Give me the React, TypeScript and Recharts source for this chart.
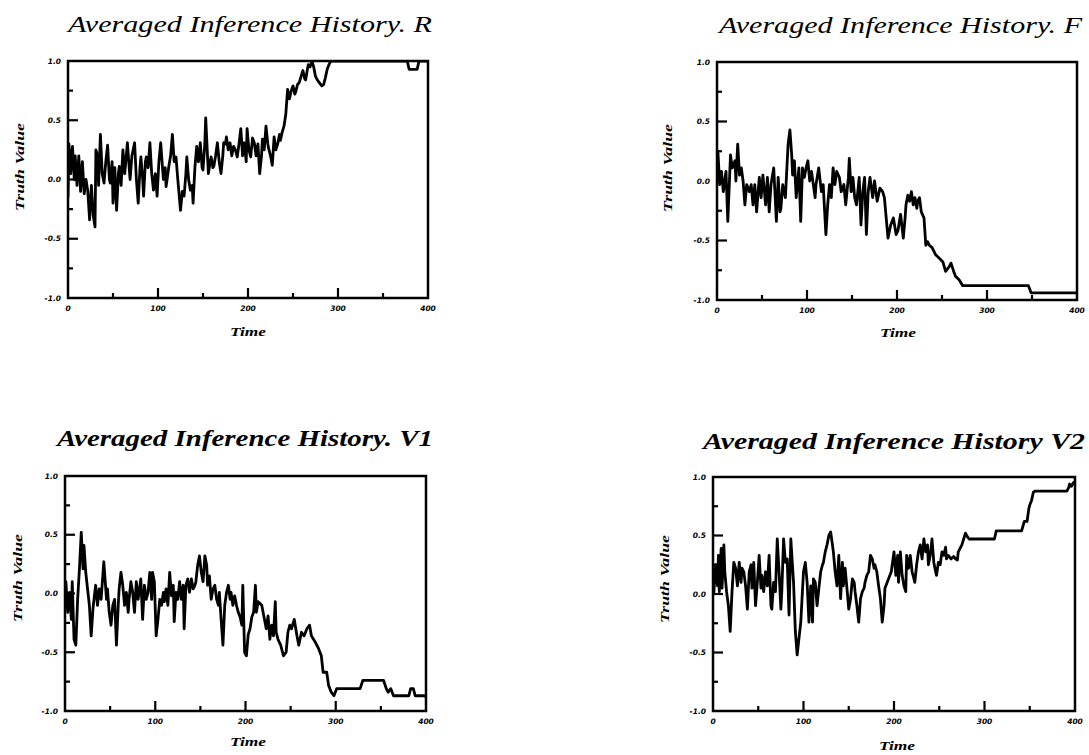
import React from 'react';
import { LineChart, Line, XAxis, YAxis, ReferenceArea } from 'recharts';

const xTicks = [0, 50, 100, 150, 200, 250, 300, 350, 400];
const xLabelTicks = [0, 100, 200, 300, 400];
const yTicks = [-1, -0.75, -0.5, -0.25, 0, 0.25, 0.5, 0.75, 1];
const yLabelTicks = [-1, -0.5, 0, 0.5, 1];

const titleR = 'Averaged Inference History. R';
const titleF = 'Averaged Inference History. F';
const titleV1 = 'Averaged Inference History. V1';
const titleV2 = 'Averaged Inference History  V2';
const xAxisName = 'Time';
const yAxisName = 'Truth Value';

// [time, truth value]
const seriesR: [number, number][] = [
  [0, -0.15], [1, 0.3], [3, 0.05], [5, 0.28], [7, 0.0], [8, 0.2], [10, -0.05], [12, 0.2], [14, -0.1], [16, 0.15],
  [18, -0.12], [20, 0.0], [22, -0.1], [24, -0.34], [26, -0.05], [28, -0.3], [30, -0.4], [31, 0.25], [33, 0.2], [34, -0.05],
  [36, 0.38], [38, 0.05], [40, -0.03], [42, 0.15], [44, 0.29], [46, 0.0], [47, -0.03], [49, 0.15], [50, -0.2], [52, 0.1],
  [54, -0.26], [56, 0.05], [57, 0.11], [59, -0.05], [61, 0.25], [63, 0.05], [66, 0.31], [68, 0.1], [69, 0.0], [71, 0.2],
  [74, 0.31], [76, 0.0], [78, -0.2], [80, 0.1], [81, 0.19], [83, 0.0], [84, -0.14], [86, 0.15], [87, 0.19], [89, 0.1],
  [91, 0.31], [93, 0.05], [95, -0.09], [97, 0.05], [99, -0.14], [101, 0.15], [103, 0.31], [105, 0.1], [106, 0.0], [108, 0.1],
  [109, -0.06], [111, 0.05], [112, 0.11], [114, 0.2], [116, 0.38], [118, 0.15], [120, 0.19], [122, 0.0], [125, -0.26], [127, -0.1],
  [129, -0.14], [131, 0.05], [132, 0.19], [134, 0.0], [136, -0.09], [138, -0.05], [139, -0.2], [141, 0.1], [143, 0.28], [145, 0.15],
  [147, 0.31], [149, 0.1], [150, 0.08], [152, 0.3], [153, 0.52], [155, 0.2], [156, 0.05], [158, 0.15], [159, 0.19], [161, 0.1],
  [162, 0.11], [164, 0.2], [166, 0.31], [168, 0.15], [170, 0.05], [172, 0.2], [173, 0.31], [175, 0.3], [176, 0.36], [178, 0.25],
  [180, 0.31], [182, 0.2], [184, 0.28], [186, 0.25], [188, 0.19], [190, 0.3], [192, 0.43], [194, 0.2], [196, 0.31], [198, 0.15],
  [199, 0.43], [201, 0.25], [203, 0.19], [205, 0.35], [207, 0.31], [209, 0.2], [211, 0.3], [213, 0.05], [215, 0.2], [216, 0.34],
  [218, 0.25], [220, 0.45], [222, 0.3], [223, 0.26], [225, 0.2], [227, 0.12], [229, 0.36], [231, 0.25], [233, 0.3], [235, 0.38],
  [236, 0.33], [238, 0.4], [240, 0.45], [242, 0.55], [244, 0.76], [246, 0.68], [248, 0.75], [250, 0.79], [252, 0.72], [253, 0.74],
  [255, 0.8], [257, 0.82], [259, 0.87], [261, 0.92], [263, 0.85], [264, 0.84], [266, 0.93], [267, 0.97], [269, 0.95], [271, 1.0],
  [273, 0.95], [275, 0.87], [277, 0.84], [279, 0.82], [282, 0.79], [284, 0.8], [286, 0.86], [288, 0.93], [290, 0.97], [292, 1.0],
  [377, 1.0], [379, 0.93], [388, 0.93], [390, 1.0], [400, 1.0],
];

const seriesF: [number, number][] = [
  [0, 0.0], [1, 0.25], [3, -0.03], [5, 0.08], [7, -0.09], [10, 0.08], [12, -0.34], [15, 0.22], [17, 0.11], [20, 0.17],
  [21, 0.0], [23, 0.31], [25, 0.05], [27, 0.11], [29, 0.0], [31, -0.2], [33, -0.03], [36, -0.09], [38, -0.03], [40, -0.2],
  [42, -0.03], [44, -0.26], [47, 0.03], [49, -0.14], [51, 0.05], [54, -0.2], [56, 0.03], [58, -0.26], [60, -0.03], [63, 0.11],
  [66, -0.34], [68, 0.03], [70, -0.26], [71, -0.23], [73, -0.03], [76, -0.14], [79, 0.31], [81, 0.43], [83, 0.22], [84, 0.05],
  [86, 0.17], [88, -0.14], [91, 0.11], [93, -0.34], [95, 0.11], [97, 0.03], [99, 0.11], [101, 0.17], [103, 0.0], [105, 0.08],
  [107, -0.03], [109, -0.14], [110, -0.03], [113, 0.11], [116, -0.09], [118, -0.03], [121, -0.45], [123, -0.2], [125, -0.03], [127, -0.14],
  [129, 0.11], [131, -0.03], [133, 0.08], [136, 0.03], [138, -0.09], [141, -0.03], [143, -0.2], [146, 0.03], [147, 0.19], [149, -0.09],
  [151, 0.03], [153, -0.14], [155, -0.2], [158, 0.03], [160, -0.37], [162, -0.09], [164, 0.03], [166, -0.45], [168, -0.09], [170, 0.03],
  [173, -0.14], [175, 0.0], [178, -0.17], [181, -0.06], [184, -0.09], [186, -0.14], [188, -0.31], [190, -0.48], [193, -0.37], [196, -0.31],
  [199, -0.45], [201, -0.42], [204, -0.28], [207, -0.48], [209, -0.31], [210, -0.2], [212, -0.12], [214, -0.17], [216, -0.09], [218, -0.2],
  [220, -0.14], [222, -0.23], [223, -0.17], [225, -0.14], [227, -0.26], [230, -0.31], [232, -0.54], [234, -0.51], [236, -0.54], [239, -0.56],
  [243, -0.62], [247, -0.65], [251, -0.68], [254, -0.76], [258, -0.72], [260, -0.69], [263, -0.76], [265, -0.8], [269, -0.83], [273, -0.88],
  [346, -0.88], [349, -0.94], [400, -0.94],
];

const seriesV1: [number, number][] = [
  [0, -0.05], [1, 0.1], [3, -0.16], [5, 0.01], [7, -0.22], [8, 0.1], [10, -0.39], [12, -0.44], [14, -0.05], [16, 0.21],
  [18, 0.52], [20, 0.21], [21, 0.41], [23, 0.18], [25, 0.04], [27, -0.1], [29, -0.36], [31, -0.13], [33, 0.01], [34, 0.07],
  [36, -0.1], [38, 0.04], [40, -0.05], [43, 0.27], [46, -0.05], [47, 0.04], [49, -0.16], [51, -0.27], [53, -0.1], [55, -0.05],
  [57, -0.44], [59, -0.1], [60, 0.04], [62, 0.18], [64, 0.07], [66, -0.1], [68, 0.01], [70, -0.16], [71, -0.05], [73, 0.1],
  [75, 0.01], [77, -0.16], [79, 0.1], [81, -0.05], [84, 0.125], [86, -0.22], [88, 0.07], [90, -0.05], [92, 0.01], [94, 0.18],
  [96, -0.05], [97, 0.18], [99, 0.1], [101, -0.36], [103, -0.22], [105, -0.05], [107, -0.1], [109, 0.01], [110, -0.07], [112, 0.04],
  [114, -0.1], [116, 0.18], [118, -0.02], [120, 0.07], [121, -0.24], [123, 0.01], [125, -0.05], [127, 0.1], [129, -0.05], [131, 0.07],
  [132, -0.3], [134, 0.07], [136, 0.125], [138, 0.01], [140, 0.125], [142, 0.04], [144, 0.07], [145, 0.1], [147, 0.24], [149, 0.32],
  [151, 0.18], [153, 0.1], [155, 0.32], [157, 0.24], [158, 0.07], [160, 0.15], [162, -0.05], [164, 0.04], [166, 0.07], [168, -0.05],
  [170, -0.1], [171, 0.01], [173, -0.22], [175, -0.44], [177, -0.1], [179, 0.01], [181, 0.07], [183, -0.05], [184, 0.01], [186, -0.1],
  [188, -0.02], [190, -0.1], [192, -0.16], [194, -0.2], [196, -0.27], [197, 0.07], [199, -0.5], [201, -0.53], [203, -0.35], [205, -0.3],
  [207, -0.2], [209, -0.16], [211, 0.07], [212, -0.16], [214, -0.07], [218, -0.1], [221, -0.22], [223, -0.3], [225, -0.19], [227, -0.39],
  [229, -0.27], [231, -0.36], [233, -0.07], [234, -0.33], [236, -0.39], [239, -0.44], [242, -0.53], [245, -0.5], [247, -0.33], [249, -0.27],
  [251, -0.3], [254, -0.22], [257, -0.36], [259, -0.44], [262, -0.33], [265, -0.36], [268, -0.3], [271, -0.27], [273, -0.36], [277, -0.41],
  [281, -0.47], [284, -0.53], [286, -0.67], [290, -0.67], [292, -0.78], [295, -0.84], [298, -0.87], [301, -0.81], [327, -0.81], [330, -0.74],
  [353, -0.74], [356, -0.81], [358, -0.84], [361, -0.81], [364, -0.87], [381, -0.87], [383, -0.81], [386, -0.81], [388, -0.87], [398, -0.87],
  [400, -0.88],
];

const seriesV2: [number, number][] = [
  [0, 0.0], [1, 0.02], [3, 0.25], [5, 0.07], [6, 0.33], [7, 0.02], [9, 0.39], [10, 0.05], [12, 0.42], [13, 0.19],
  [15, 0.02], [17, -0.1], [19, -0.32], [21, 0.02], [23, 0.27], [25, 0.22], [27, 0.07], [29, 0.27], [31, 0.1], [32, 0.22],
  [34, 0.19], [36, 0.07], [38, -0.13], [40, 0.19], [42, 0.25], [43, 0.05], [45, 0.27], [47, -0.1], [49, 0.1], [51, 0.33],
  [53, 0.05], [54, 0.16], [56, 0.02], [58, 0.19], [60, 0.07], [62, 0.33], [64, -0.1], [65, -0.13], [67, 0.1], [69, 0.02],
  [71, 0.47], [73, 0.19], [75, -0.13], [76, 0.02], [78, 0.47], [80, 0.27], [82, 0.3], [84, -0.18], [86, 0.47], [88, 0.22],
  [89, 0.1], [91, -0.32], [93, -0.52], [95, -0.38], [97, -0.24], [99, 0.05], [100, 0.19], [102, 0.27], [104, 0.1], [106, -0.24],
  [108, 0.07], [110, -0.24], [111, 0.13], [113, 0.1], [115, -0.1], [117, 0.05], [119, 0.19], [121, 0.25], [122, 0.27], [124, 0.36],
  [126, 0.42], [128, 0.5], [130, 0.53], [132, 0.42], [133, 0.36], [135, 0.19], [137, 0.07], [139, 0.33], [141, -0.04], [143, 0.27],
  [144, 0.07], [146, 0.22], [148, 0.05], [150, -0.13], [152, -0.04], [154, 0.13], [156, 0.1], [157, 0.02], [159, -0.1], [161, -0.24],
  [163, -0.04], [165, 0.02], [167, 0.05], [168, 0.1], [170, 0.16], [172, 0.19], [174, 0.33], [176, 0.3], [178, 0.22], [179, 0.25],
  [181, 0.19], [183, 0.07], [185, -0.04], [187, -0.24], [189, -0.1], [190, 0.05], [194, 0.13], [197, 0.19], [200, 0.36], [202, 0.16],
  [204, 0.33], [205, 0.1], [207, 0.36], [209, 0.16], [211, 0.07], [213, 0.02], [214, 0.33], [216, 0.22], [218, 0.33], [220, 0.19],
  [223, 0.1], [225, 0.25], [227, 0.36], [229, 0.42], [231, 0.3], [233, 0.47], [235, 0.36], [237, 0.42], [238, 0.25], [240, 0.33],
  [242, 0.47], [244, 0.27], [246, 0.19], [247, 0.16], [249, 0.27], [251, 0.25], [253, 0.36], [255, 0.33], [257, 0.4], [258, 0.3],
  [260, 0.33], [263, 0.3], [266, 0.32], [268, 0.3], [270, 0.29], [271, 0.36], [273, 0.39], [275, 0.42], [277, 0.47], [279, 0.52],
  [281, 0.49], [283, 0.47], [311, 0.47], [313, 0.54], [341, 0.54], [344, 0.62], [347, 0.62], [349, 0.73], [350, 0.76], [352, 0.8],
  [354, 0.87], [356, 0.88], [391, 0.88], [393, 0.91], [394, 0.94], [396, 0.92], [398, 0.95], [400, 0.96],
];

const TICK_FONT = '"DejaVu Sans", sans-serif';
const SCRIPT_FONT = '"Liberation Serif", "DejaVu Serif", serif';

function XTick(props: any) {
  const { x, y, payload } = props;
  const v = payload.value;
  const major = v % 100 === 0;
  const edge = v === 0 || v === 400;
  return (
    <g>
      {!edge && (
        <line x1={x} x2={x} y1={y} y2={y - (major ? 10 : 5)} stroke="#000" strokeWidth={2.2} />
      )}
      {xLabelTicks.includes(v) && (
        <text x={x} y={y + 13} textAnchor="middle" fontSize={7.5} fontWeight="bold" fontStyle="italic" fontFamily={TICK_FONT} fill="#000">
          {String(v)}
        </text>
      )}
    </g>
  );
}

function YTick(props: any) {
  const { x, y, payload } = props;
  const v = payload.value;
  const major = yLabelTicks.includes(v);
  const edge = v === -1 || v === 1;
  return (
    <g>
      {!edge && (
        <line x1={x} x2={x + (major ? 10 : 5)} y1={y} y2={y} stroke="#000" strokeWidth={2.2} />
      )}
      {major && (
        <text x={x - 7} y={y + 2.5} textAnchor="end" fontSize={7.5} fontWeight="bold" fontStyle="italic" fontFamily={TICK_FONT} fill="#000">
          {v.toFixed(1)}
        </text>
      )}
    </g>
  );
}

type PlotBox = { left: number; top: number; width: number; height: number };

function Panel({ box, series }: { box: PlotBox; series: [number, number][] }) {
  const ml = 10, mt = 20, mr = 20, mb = 10;
  const yw = 40, xh = 20;
  const data = series.map(([t, v]) => ({ t, v }));
  return (
    <div style={{ position: 'absolute', left: box.left - ml - yw, top: box.top - mt }}>
      <LineChart
        width={box.width + ml + yw + mr}
        height={box.height + mt + mb + xh}
        data={data}
        margin={{ top: mt, left: ml, right: mr, bottom: mb }}
      >
        <XAxis
          dataKey="t"
          type="number"
          domain={[0, 400]}
          ticks={xTicks}
          interval={0}
          tick={<XTick />}
          tickLine={false}
          axisLine={false}
          tickSize={0}
          tickMargin={0}
          height={xh}
          allowDataOverflow
        />
        <YAxis
          type="number"
          domain={[-1, 1]}
          ticks={yTicks}
          interval={0}
          tick={<YTick />}
          tickLine={false}
          axisLine={false}
          tickSize={0}
          tickMargin={0}
          width={yw}
          allowDataOverflow
        />
        <ReferenceArea x1={0} x2={400} y1={-1} y2={1} fill="none" stroke="#000" strokeWidth={2.5} ifOverflow="visible" />
        <Line
          dataKey="v"
          type="linear"
          stroke="#000"
          strokeWidth={2.8}
          strokeLinejoin="round"
          dot={false}
          activeDot={false}
          isAnimationActive={false}
        />
      </LineChart>
    </div>
  );
}

type TextSpec = { title: string; tx: number; tw: number; ty: number; bold: boolean; timeX: number; timeY: number; yx: number; yy: number };

function Labels({ s }: { s: TextSpec }) {
  return (
    <g>
      <text
        x={s.tx}
        y={s.ty}
        textLength={s.tw}
        lengthAdjust="spacingAndGlyphs"
        fontSize={24}
        fontStyle="italic"
        fontWeight={s.bold ? 'bold' : 'normal'}
        fontFamily={SCRIPT_FONT}
        fill="#000"
      >
        {s.title}
      </text>
      <text
        x={s.timeX - 18}
        y={s.timeY}
        textLength={36}
        lengthAdjust="spacingAndGlyphs"
        fontSize={13}
        fontStyle="italic"
        fontWeight="bold"
        fontFamily={SCRIPT_FONT}
        fill="#000"
      >
        {xAxisName}
      </text>
      <text
        x={s.yx - 44}
        y={s.yy}
        textLength={88}
        lengthAdjust="spacingAndGlyphs"
        fontSize={13}
        fontStyle="italic"
        fontWeight="bold"
        fontFamily={SCRIPT_FONT}
        fill="#000"
        transform={`rotate(-90, ${s.yx}, ${s.yy})`}
        dy={4}
      >
        {yAxisName}
      </text>
    </g>
  );
}

const boxR: PlotBox = { left: 68, top: 61, width: 360, height: 237 };
const boxF: PlotBox = { left: 717, top: 62, width: 360, height: 238 };
const boxV1: PlotBox = { left: 65, top: 476, width: 361, height: 235 };
const boxV2: PlotBox = { left: 713, top: 477, width: 362, height: 234 };

const specs: TextSpec[] = [
  { title: titleR, tx: 68, tw: 364, ty: 32, bold: false, timeX: 248, timeY: 336, yx: 20, yy: 167 },
  { title: titleF, tx: 719, tw: 363, ty: 33, bold: false, timeX: 898, timeY: 337, yx: 668, yy: 168 },
  { title: titleV1, tx: 57, tw: 376, ty: 446, bold: true, timeX: 248, timeY: 746, yx: 18, yy: 578 },
  { title: titleV2, tx: 703, tw: 382, ty: 449, bold: true, timeX: 897, timeY: 750, yx: 665, yy: 579 },
];

export default function App() {
  return (
    <div style={{ position: 'absolute', left: 0, top: 0, width: 1089, height: 755, background: '#fff', overflow: 'hidden' }}>
      <Panel box={boxR} series={seriesR} />
      <Panel box={boxF} series={seriesF} />
      <Panel box={boxV1} series={seriesV1} />
      <Panel box={boxV2} series={seriesV2} />
      <svg width={1089} height={755} style={{ position: 'absolute', left: 0, top: 0, pointerEvents: 'none' }}>
        {specs.map((s, i) => (
          <Labels key={i} s={s} />
        ))}
      </svg>
    </div>
  );
}
